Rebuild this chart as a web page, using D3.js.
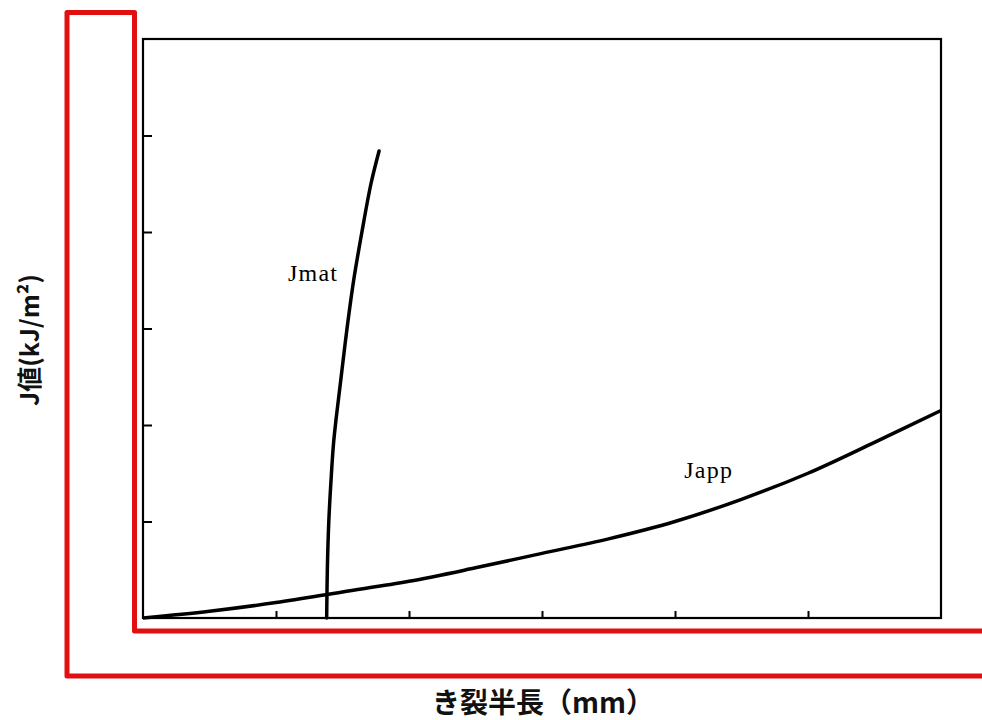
<!DOCTYPE html>
<html><head><meta charset="utf-8">
<script src="https://cdn.jsdelivr.net/npm/d3@7"></script>
<style>html,body{margin:0;padding:0;background:#fff;}svg{display:block;}</style>
</head><body>
<svg id="c" width="982" height="720"></svg>
<script>
// Data (axes have no numeric labels, domain 0..6 in tick units)
const xTicks = [1, 2, 3, 4, 5];
const yTicks = [1, 2, 3, 4, 5];
const jappX = [0, 0.5, 1, 1.5, 2, 2.5, 3, 3.5, 4, 4.5, 5, 5.5, 6];
const jappY = [0, 0.07, 0.16, 0.27, 0.38, 0.52, 0.67, 0.82, 1.00, 1.23, 1.50, 1.82, 2.15];
const jmatX = [1.381, 1.386, 1.397, 1.417, 1.432, 1.455, 1.490, 1.534, 1.584, 1.646, 1.714, 1.775];
const jmatY = [0, 0.5, 1.0, 1.5, 1.8, 2.1, 2.5, 3.0, 3.5, 4.0, 4.5, 4.84];
const seriesLabels = ["Jmat", "Japp"];
const xTitle = "き裂半長（mm）";
const yTitle = "J値(kJ/m²)";

const svg = d3.select("#c");
const L = 143, R = 941, T = 39, B = 618;
const x = d3.scaleLinear().domain([0, 6]).range([L, R]);
const y = d3.scaleLinear().domain([0, 6]).range([B, T]);

// red L-shaped frame
svg.append("path")
  .attr("d", "M982,676 H67 V12.5 H134.5 V631 H982")
  .attr("fill", "none").attr("stroke", "#e01010").attr("stroke-width", 5)
  .attr("stroke-linejoin", "round");

// axes ticks
svg.append("g").attr("transform", `translate(0,${B})`)
  .call(d3.axisBottom(x).tickValues(xTicks).tickSize(-7).tickFormat(""))
  .call(g => g.select(".domain").remove())
  .call(g => g.selectAll("line").attr("stroke", "#000").attr("stroke-width", 2));
svg.append("g").attr("transform", `translate(${L},0)`)
  .call(d3.axisLeft(y).tickValues(yTicks).tickSize(-9).tickFormat(""))
  .call(g => g.select(".domain").remove())
  .call(g => g.selectAll("line").attr("stroke", "#000").attr("stroke-width", 2));

// plot border
svg.append("rect").attr("x", L).attr("y", T).attr("width", R - L).attr("height", B - T)
  .attr("fill", "none").attr("stroke", "#000").attr("stroke-width", 2.2);

const line = d3.line().x(d => x(d[0])).y(d => y(d[1])).curve(d3.curveCatmullRom.alpha(0.5));
svg.append("path").datum(jappX.map((v, i) => [v, jappY[i]]))
  .attr("d", line).attr("fill", "none").attr("stroke", "#000").attr("stroke-width", 3.5);
svg.append("path").datum(jmatX.map((v, i) => [v, jmatY[i]]))
  .attr("d", line).attr("fill", "none").attr("stroke", "#000").attr("stroke-width", 3.5)
  .attr("stroke-linecap", "round");

// series labels
svg.append("text").attr("x", x(1.09)).attr("y", y(3.5) + 1)
  .attr("font-family", "Liberation Serif, DejaVu Serif, serif").attr("font-size", 24)
  .attr("letter-spacing", 1.2).attr("fill", "#000").text(seriesLabels[0]);
svg.append("text").attr("x", x(4.07)).attr("y", y(1.45))
  .attr("font-family", "Liberation Serif, DejaVu Serif, serif").attr("font-size", 24)
  .attr("letter-spacing", 1.2).attr("fill", "#000").text(seriesLabels[1]);

// axis titles
svg.append("text").attr("x", 543).attr("y", 713).attr("text-anchor", "middle")
  .attr("font-family", "Noto Sans CJK JP, sans-serif").attr("font-size", 28).attr("font-weight", "bold")
  .attr("fill", "#111").text(xTitle);
svg.append("text").attr("transform", "translate(39,340) rotate(-90)").attr("text-anchor", "middle")
  .attr("font-family", "Noto Sans CJK JP, sans-serif").attr("font-size", 25).attr("font-weight", "bold")
  .attr("fill", "#111").text(yTitle);
</script>
</body></html>
